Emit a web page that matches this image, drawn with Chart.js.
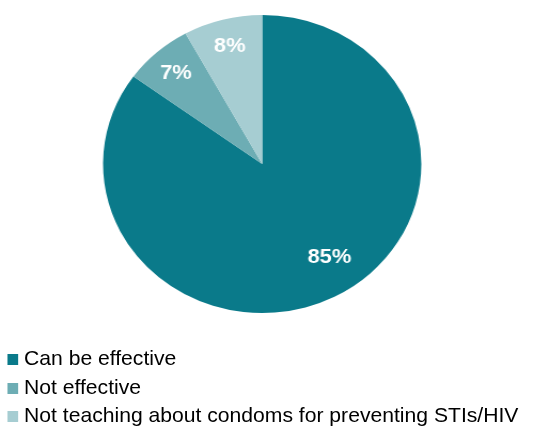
<!DOCTYPE html>
<html>
<head>
<meta charset="utf-8">
<script src="https://cdn.jsdelivr.net/npm/chart.js@4"></script>
<style>
  html, body { margin: 0; padding: 0; background: #fff; overflow: hidden; }
  /* the reference picture is stretched a little horizontally */
  #wrap { position: relative; width: 500px; height: 427px; transform: scale(1.068, 1); transform-origin: 0 0; }
  #legend {
    position: absolute; left: 6.6px; top: 344px; margin: 0; padding: 0; list-style: none;
    font-family: "Liberation Sans", Arial, sans-serif; font-size: 19.8px;
    color: #000;
  }
  #legend li { height: 28.5px; line-height: 28.5px; white-space: nowrap; }
  #legend span.box { display: inline-block; width: 10.3px; height: 11px; margin-right: 5.6px; vertical-align: 0px; }
</style>
</head>
<body>
<div id="wrap">
  <canvas id="pie" width="500" height="427"></canvas>
  <ul id="legend"></ul>
</div>
<script>
const categories = ["Can be effective", "Not effective", "Not teaching about condoms for preventing STIs/HIV"];
const shares = [85, 7, 8];
const colors = ["#0A7A8A", "#6DADB4", "#A6CDD2"];
const labelRadius = [0.75, 0.82, 0.82];
const labelTurn = [-7.3, 0, 0]; // degrees, Excel nudges the big label

// percentage labels inside each slice
const sliceLabels = {
  id: "sliceLabels",
  afterDatasetsDraw(chart) {
    const ctx = chart.ctx;
    const arcs = chart.getDatasetMeta(0).data;
    ctx.save();
    ctx.font = "bold 20.5px 'Liberation Sans', Arial, sans-serif";
    ctx.fillStyle = "#fff";
    ctx.textAlign = "center";
    ctx.textBaseline = "middle";
    arcs.forEach((arc, i) => {
      const p = arc.getProps(["x", "y", "startAngle", "endAngle", "outerRadius"], true);
      const mid = (p.startAngle + p.endAngle) / 2 + labelTurn[i] * Math.PI / 180;
      const r = p.outerRadius * labelRadius[i];
      ctx.fillText(shares[i] + "%", p.x + Math.cos(mid) * r, p.y + Math.sin(mid) * r + 1);
    });
    ctx.restore();
  }
};

new Chart(document.getElementById("pie"), {
  type: "pie",
  data: {
    labels: categories,
    datasets: [{ data: shares, backgroundColor: colors, borderWidth: 0 }]
  },
  options: {
    responsive: false,
    animation: false,
    layout: { padding: { left: 96.5, right: 105.5, top: 15, bottom: 114 } },
    plugins: { legend: { display: false }, tooltip: { enabled: false } }
  },
  plugins: [sliceLabels]
});

const legend = document.getElementById("legend");
categories.forEach((name, i) => {
  const li = document.createElement("li");
  li.innerHTML = '<span class="box" style="background:' + colors[i] + '"></span>' + name;
  legend.appendChild(li);
});
</script>
</body>
</html>
